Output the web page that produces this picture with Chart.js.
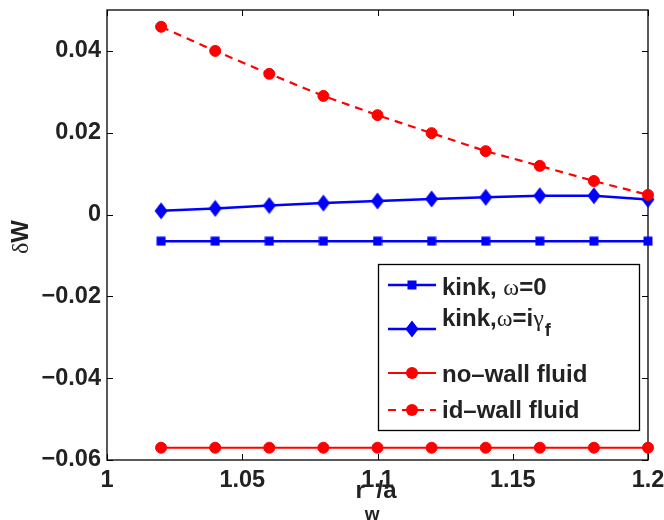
<!DOCTYPE html>
<html>
<head>
<meta charset="utf-8">
<script src="https://cdn.jsdelivr.net/npm/chart.js@4.4.1/dist/chart.umd.min.js"></script>
<style>
  html, body { margin: 0; padding: 0; background: #fff; }
  #wrap { width: 664px; height: 520px; }
</style>
</head>
<body>
<div id="wrap"><canvas id="c" width="664" height="520"></canvas></div>
<script>
// ---- data ----
const xValues = [1.02, 1.04, 1.06, 1.08, 1.10, 1.12, 1.14, 1.16, 1.18, 1.20];
const kinkOmega0 = [-0.0065, -0.0065, -0.0065, -0.0065, -0.0065, -0.0065, -0.0065, -0.0065, -0.0065, -0.0065];
const kinkOmegaIGamma = [0.0009, 0.0015, 0.0022, 0.0028, 0.0033, 0.0038, 0.0042, 0.0046, 0.0046, 0.0037];
const noWallFluid = [-0.057, -0.057, -0.057, -0.057, -0.057, -0.057, -0.057, -0.057, -0.057, -0.057];
const idWallFluid = [0.0459, 0.0400, 0.0344, 0.0290, 0.0243, 0.0199, 0.0155, 0.0119, 0.0082, 0.0048];

const xTicks = [1, 1.05, 1.1, 1.15, 1.2];
const xTickLabels = ['1', '1.05', '1.1', '1.15', '1.2'];
const yTicks = [-0.06, -0.04, -0.02, 0, 0.02, 0.04];
const yTickLabels = ['\u22120.06', '\u22120.04', '\u22120.02', '0', '0.02', '0.04'];

const BLUE = '#0000ff';
const RED = '#ff0000';
const BOLD = 'bold 24px "Liberation Sans", Arial, sans-serif';
const SYM = '24px "Liberation Serif", "DejaVu Serif", serif';

// marker images
function makeSquare() {
  const c = document.createElement('canvas'); c.width = 10; c.height = 10;
  const g = c.getContext('2d'); g.fillStyle = BLUE; g.fillRect(0.5, 0.5, 9, 9);
  return c;
}
function makeDiamond() {
  const c = document.createElement('canvas'); c.width = 14; c.height = 18;
  const g = c.getContext('2d'); g.fillStyle = BLUE;
  g.beginPath(); g.moveTo(7, 0.5); g.lineTo(13.5, 9); g.lineTo(7, 17.5); g.lineTo(0.5, 9); g.closePath(); g.fill();
  return c;
}
const squareImg = makeSquare();
const diamondImg = makeDiamond();

const pts = arr => xValues.map((x, i) => ({ x: x, y: arr[i] }));

const framePlugin = {
  id: 'frame',
  beforeDatasetsDraw(chart) {
    const ctx = chart.ctx, a = chart.chartArea;
    const xs = chart.scales.x, ys = chart.scales.y;
    ctx.save();
    ctx.strokeStyle = '#000';
    ctx.lineWidth = 1.3;
    ctx.strokeRect(a.left, a.top, a.right - a.left, a.bottom - a.top);
    ctx.lineWidth = 1;
    ctx.beginPath();
    const tl = 6;
    xTicks.forEach(v => {
      const px = Math.round(xs.getPixelForValue(v)) + 0.5;
      ctx.moveTo(px, a.bottom); ctx.lineTo(px, a.bottom - tl);
      ctx.moveTo(px, a.top); ctx.lineTo(px, a.top + tl);
    });
    yTicks.forEach(v => {
      const py = Math.round(ys.getPixelForValue(v)) + 0.5;
      ctx.moveTo(a.left, py); ctx.lineTo(a.left + tl, py);
      ctx.moveTo(a.right, py); ctx.lineTo(a.right - tl, py);
    });
    ctx.stroke();
    ctx.restore();
  },
  afterDraw(chart) {
    const ctx = chart.ctx, a = chart.chartArea;
    ctx.save();
    ctx.fillStyle = '#222';
    ctx.textBaseline = 'alphabetic';
    // x title r_w/a
    const cx = (a.left + a.right) / 2;
    ctx.font = BOLD;
    ctx.textAlign = 'left';
    let x0 = cx - 22;
    ctx.fillText('r', x0, 498);
    const rw = ctx.measureText('r').width;
    ctx.font = 'bold 19px "Liberation Sans", Arial, sans-serif';
    ctx.fillText('w', x0 + rw, 520);
    ctx.font = BOLD;
    ctx.fillText('/a', cx - 1, 498);
    // y title δW
    ctx.save();
    ctx.translate(28, (a.top + a.bottom) / 2 + 2);
    ctx.rotate(-Math.PI / 2);
    ctx.font = SYM;
    const dw = ctx.measureText('\u03b4').width;
    ctx.font = BOLD;
    const ww = ctx.measureText('W').width;
    let sx = -(dw + ww) / 2;
    ctx.font = SYM; ctx.fillText('\u03b4', sx, 0);
    ctx.font = BOLD; ctx.fillText('W', sx + dw, 0);
    ctx.restore();

    // legend box
    ctx.fillStyle = '#fff';
    ctx.fillRect(378.5, 264.5, 261, 166);
    ctx.strokeStyle = '#000';
    ctx.lineWidth = 1.3;
    ctx.strokeRect(378.5, 264.5, 261, 166);

    const lx1 = 388, lx2 = 436, mx = 412, tx = 442;
    function seg(y, color, width, dash) {
      ctx.save();
      ctx.strokeStyle = color; ctx.lineWidth = width;
      ctx.setLineDash(dash || []);
      ctx.beginPath(); ctx.moveTo(lx1, y); ctx.lineTo(lx2, y); ctx.stroke();
      ctx.restore();
    }
    function runs(parts, x, y) {
      parts.forEach(p => {
        ctx.font = p.f;
        ctx.fillText(p.t, x, y + (p.dy || 0));
        x += ctx.measureText(p.t).width + (p.dx || 0);
      });
    }
    // 1
    seg(285, BLUE, 2.5);
    ctx.drawImage(squareImg, mx - 5, 285 - 5);
    ctx.fillStyle = '#222';
    runs([{ t: 'kink, ', f: BOLD }, { t: '\u03c9', f: SYM }, { t: '=0', f: BOLD }], tx, 295);
    // 2
    seg(329, BLUE, 2.5);
    ctx.drawImage(diamondImg, mx - 7, 329 - 9);
    ctx.fillStyle = '#222';
    runs([{ t: 'kink,', f: BOLD }, { t: '\u03c9', f: SYM }, { t: '=i', f: BOLD }, { t: '\u03b3', f: SYM, dx: 1 },
          { t: 'f', f: 'bold 18px "Liberation Sans", Arial, sans-serif', dy: 10 }], tx, 326);
    // 3
    seg(373, RED, 2.2);
    ctx.fillStyle = RED;
    ctx.beginPath(); ctx.arc(mx, 373, 6, 0, Math.PI * 2); ctx.fill();
    ctx.fillStyle = '#222';
    runs([{ t: 'no\u2013wall fluid', f: BOLD }], tx, 382);
    // 4
    seg(410, RED, 2.2, [8, 6]);
    ctx.fillStyle = RED;
    ctx.beginPath(); ctx.arc(mx, 410, 6, 0, Math.PI * 2); ctx.fill();
    ctx.fillStyle = '#222';
    runs([{ t: 'id\u2013wall fluid', f: BOLD }], tx, 418);
    ctx.restore();
  }
};

new Chart(document.getElementById('c'), {
  type: 'line',
  data: {
    datasets: [
      { label: 'kink, \u03c9=0', data: pts(kinkOmega0), borderColor: BLUE, backgroundColor: BLUE,
        borderWidth: 2.5, pointStyle: squareImg, pointRadius: 5, order: 4, clip: false, tension: 0 },
      { label: 'kink,\u03c9=i\u03b3f', data: pts(kinkOmegaIGamma), borderColor: BLUE, backgroundColor: BLUE,
        borderWidth: 2.5, pointStyle: diamondImg, pointRadius: 7, order: 3, clip: false, tension: 0 },
      { label: 'no-wall fluid', data: pts(noWallFluid), borderColor: RED, backgroundColor: RED,
        borderWidth: 2.2, pointStyle: 'circle', pointRadius: 5.5, pointBorderWidth: 1, order: 2, clip: false, tension: 0 },
      { label: 'id-wall fluid', data: pts(idWallFluid), borderColor: RED, backgroundColor: RED,
        borderWidth: 2.2, borderDash: [8, 6], pointStyle: 'circle', pointRadius: 5.5, pointBorderWidth: 1, order: 1, clip: false, tension: 0 }
    ]
  },
  options: {
    responsive: false,
    animation: false,
    events: [],
    layout: { padding: { left: 0, top: 10, right: 16, bottom: 0 } },
    plugins: { legend: { display: false }, tooltip: { enabled: false } },
    scales: {
      x: {
        type: 'linear', min: 1, max: 1.2,
        afterBuildTicks: s => { s.ticks = xTicks.map(v => ({ value: v })); },
        afterFit: s => { s.height = 60; s.paddingLeft = 0; s.paddingRight = 0; },
        grid: { display: false, drawTicks: false },
        border: { display: false },
        ticks: { padding: 6, color: '#222', maxRotation: 0, autoSkip: false,
          font: { family: '"Liberation Sans", Arial, sans-serif', size: 23.5, weight: 'bold' },
          callback: (v, i) => xTickLabels[i] }
      },
      y: {
        type: 'linear', min: -0.06, max: 0.05,
        afterBuildTicks: s => { s.ticks = yTicks.map(v => ({ value: v })); },
        afterFit: s => { s.width = 107; s.paddingTop = 0; s.paddingBottom = 0; },
        grid: { display: false, drawTicks: false },
        border: { display: false },
        ticks: { padding: 6, color: '#222', autoSkip: false,
          font: { family: '"Liberation Sans", Arial, sans-serif', size: 23.5, weight: 'bold' },
          callback: (v, i) => yTickLabels[i] }
      }
    }
  },
  plugins: [framePlugin]
});
</script>
</body>
</html>
